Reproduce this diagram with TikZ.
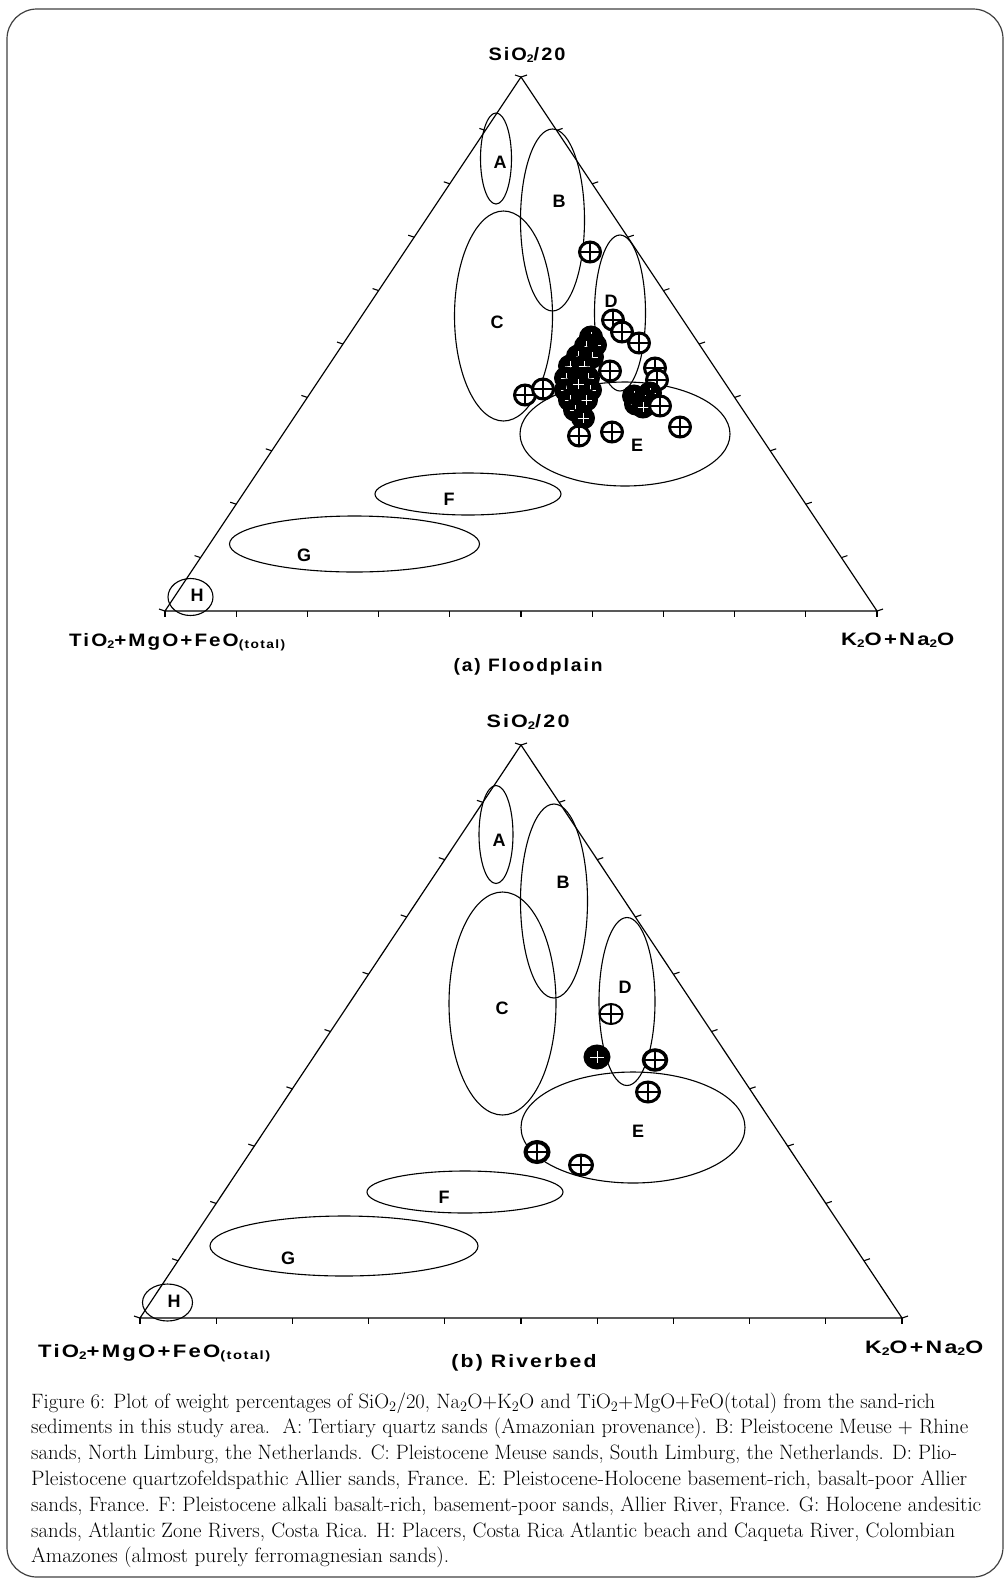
\documentclass[tikz,border=0pt]{standalone}
\usepackage{fontspec}
\usepackage{graphicx}
\usetikzlibrary{calc,shapes.geometric}
\newfontfamily\axf[LetterSpace=10]{Liberation Sans}
\newfontfamily\lbf{Liberation Sans}
\newcommand\mysub[1]{\raisebox{-1.5pt}{\fontsize{11}{11}\selectfont #1}}
\newcommand\mytot{\raisebox{-1.5pt}{\fontsize{12}{12}\selectfont (total)}}
\newcommand\fitw[2]{\resizebox{#1pt}{\height}{#2}}
\tikzset{
 triline/.style={line width=1.2pt},
 regline/.style={line width=1.1pt},
 tickline/.style={line width=1.1pt},
 reglab/.style={font=\lbf\bfseries\fontsize{18}{18}\selectfont, inner sep=0pt},
 axlab/.style={font=\axf\bfseries\fontsize{18}{18}\selectfont, inner sep=0pt},
 captxt/.style={anchor=base west, inner sep=0pt, font=\fontsize{20.8}{22}\selectfont},
 ptw/.style={ellipse, draw, line width=3pt, fill=white, minimum width=21pt, minimum height=20pt, inner sep=0pt,
   path picture={\draw[line width=1.8pt] (path picture bounding box.north) -- (path picture bounding box.south)
     (path picture bounding box.west) -- (path picture bounding box.east);}},
 ptk/.style={ptw, fill=black,
   path picture={\draw[white, line width=0.5pt] ([yshift=-5pt]path picture bounding box.north) -- ([yshift=5pt]path picture bounding box.south)
     ([xshift=5pt]path picture bounding box.west) -- ([xshift=-5pt]path picture bounding box.east);}},
 ptwide/.style={minimum width=23pt, minimum height=20pt},
}
\begin{document}
\begin{tikzpicture}[x=1pt,y=-1pt]
\useasboundingbox (0,0) rectangle (1005,1580);
\draw[rounded corners=30pt, line width=1.2pt, black!75] (7,9) rectangle (1003,1577);

% ================= panel (a)
\coordinate (Ta) at (521,77);
\coordinate (La) at (165,611);
\coordinate (Ra) at (877,611);
\draw[triline] (La) -- (Ra) -- (Ta) -- cycle;
\foreach \k in {0,...,10} {
  \draw[tickline] ($(La)!\k/10!(Ra)$) -- ++(0,6);
  \draw[tickline] ($(La)!\k/10!(Ta)$) -- ++(-6,-2);
  \draw[tickline] ($(Ra)!\k/10!(Ta)$) -- ++(6,-2);
}
\draw[regline] (496,158.5) ellipse [x radius=15.5, y radius=45.5];
\draw[regline] (552.5,220) ellipse [x radius=32, y radius=91];
\draw[regline] (503.5,316) ellipse [x radius=49, y radius=105];
\draw[regline] (620,313) ellipse [x radius=25.5, y radius=78];
\draw[regline] (625,434) ellipse [x radius=105, y radius=52];
\draw[regline] (468,494) ellipse [x radius=93, y radius=21];
\draw[regline] (354.5,544) ellipse [x radius=125, y radius=28];
\draw[regline] (190.5,597) ellipse [x radius=22.5, y radius=18.5];
\node[reglab] (aA) at (500,162) {A};
\node[reglab] (aB) at (559,201) {B};
\node[reglab] (aC) at (497,322) {C};
\node[reglab] (aD) at (611,301) {D};
\node[reglab] (aE) at (637,445) {E};
\node[reglab] (aF) at (449,499) {F};
\node[reglab] (aG) at (304,555) {G};
\node[reglab] (aH) at (197,595) {H};
% data points (a)
\node[ptw] (a1) at (590,252) {};
\node[ptw] (a2) at (613,320) {};
\node[ptw] (a3) at (622,332) {};
\node[ptw] (a4) at (639,343) {};
\node[ptk] (k1) at (591,337) {};
\node[ptk] (k1b) at (595,345) {};
\node[ptk] (k2) at (586,346) {};
\node[ptk] (k3) at (578,356) {};
\node[ptk] (k3b) at (592,357) {};
\node[ptk] (k4) at (570,366) {};
\node[ptk] (k5) at (584,366) {};
\node[ptk] (k6) at (566,378) {};
\node[ptk] (k7) at (588,378) {};
\node[ptk] (k8) at (566,390) {};
\node[ptk] (k9) at (590,390) {};
\node[ptk] (k9b) at (578,384) {};
\node[ptk] (k10) at (570,400) {};
\node[ptk] (k11) at (586,400) {};
\node[ptk] (k12) at (575,410) {};
\node[ptk] (k13) at (583,418) {};
\node[ptw] (a5) at (610,371) {};
\node[ptw] (a6) at (655,368) {};
\node[ptw] (a7) at (657,380) {};
\node[ptk] (k14) at (634,396) {};
\node[ptk] (k15) at (650,393) {};
\node[ptk] (k16) at (645,400) {};
\node[ptk] (k17) at (636,404) {};
\node[ptk] (k18) at (643,407) {};
\node[ptw] (a8) at (525,395) {};
\node[ptw] (a9) at (543,389) {};
\node[ptw] (a10) at (579,436) {};
\node[ptw] (a11) at (612,432) {};
\node[ptw] (a12) at (680,427) {};
\node[ptw] (a13) at (660,406) {};
% axis labels (a)
\node[axlab] (atop) at (527,55) {\fitw{77}{SiO\mysub{2}/20}};
\node[axlab, anchor=west] (aleft) at (69,642) {\fitw{216}{TiO\mysub{2}+MgO+FeO\mytot}};
\node[axlab, anchor=west] (aright) at (841,640) {\fitw{113}{K\mysub{2}O+Na\mysub{2}O}};
\node[axlab] (atitle) at (528,667) {\fitw{149}{(a) Floodplain}};

% ================= panel (b)
\coordinate (Tb) at (521,745);
\coordinate (Lb) at (140,1318);
\coordinate (Rb) at (902,1318);
\draw[triline] (Lb) -- (Rb) -- (Tb) -- cycle;
\foreach \k in {0,...,10} {
  \draw[tickline] ($(Lb)!\k/10!(Rb)$) -- ++(0,6);
  \draw[tickline] ($(Lb)!\k/10!(Tb)$) -- ++(-6,-2);
  \draw[tickline] ($(Rb)!\k/10!(Tb)$) -- ++(6,-2);
}
\draw[regline] (496,834.5) ellipse [x radius=17, y radius=49];
\draw[regline] (554,901) ellipse [x radius=33.5, y radius=97];
\draw[regline] (502.5,1003.5) ellipse [x radius=53.5, y radius=111.5];
\draw[regline] (627,1001.5) ellipse [x radius=28, y radius=84];
\draw[regline] (633,1127.5) ellipse [x radius=112, y radius=55.5];
\draw[regline] (465,1192) ellipse [x radius=98, y radius=21];
\draw[regline] (344,1246) ellipse [x radius=134, y radius=30];
\draw[regline] (167.5,1302.5) ellipse [x radius=25, y radius=18.5];
\node[reglab] (bA) at (499,840) {A};
\node[reglab] (bB) at (563,882) {B};
\node[reglab] (bC) at (502,1008) {C};
\node[reglab] (bD) at (625,987) {D};
\node[reglab] (bE) at (638,1131) {E};
\node[reglab] (bF) at (444,1197) {F};
\node[reglab] (bG) at (288,1258) {G};
\node[reglab] (bH) at (174,1301) {H};
% data points (b)
\node[ptw, ptwide, line width=2pt] (b1) at (611,1014) {};
\node[ptk, ptwide, minimum width=24pt, minimum height=22pt] (b2) at (597,1057) {};
\node[ptw, ptwide, line width=3.5pt] (b3) at (655,1060) {};
\node[ptw, ptwide] (b4) at (648,1092) {};
\node[ptw, ptwide, line width=4pt] (b5) at (537,1152) {};
\node[ptw, ptwide] (b6) at (581,1165) {};
% axis labels (b)
\node[axlab] (btop) at (528,722) {\fitw{83}{SiO\mysub{2}/20}};
\node[axlab, anchor=west] (bleft) at (38,1353) {\fitw{232}{TiO\mysub{2}+MgO+FeO\mytot}};
\node[axlab, anchor=west] (bright) at (865,1348) {\fitw{118}{K\mysub{2}O+Na\mysub{2}O}};
\node[axlab] (btitle) at (524,1363) {\fitw{145}{(b) Riverbed}};

% ================= caption
\node[captxt] (c1) at (31,1408) {\fitw{904}{Figure 6: Plot of weight percentages of SiO$_2$/20, Na$_2$O+K$_2$O and TiO$_2$+MgO+FeO(total) from the sand-rich}};
\node[captxt] (c2) at (31,1433.8) {\fitw{937}{sediments in this study area.\ \ A: Tertiary quartz sands (Amazonian provenance). B: Pleistocene Meuse + Rhine}};
\node[captxt] (c3) at (31,1459.6) {\fitw{926}{sands, North Limburg, the Netherlands. C: Pleistocene Meuse sands, South Limburg, the Netherlands. D: Plio-}};
\node[captxt] (c4) at (31,1485.4) {\fitw{936}{Pleistocene quartzofeldspathic Allier sands, France. E: Pleistocene-Holocene basement-rich, basalt-poor Allier}};
\node[captxt] (c5) at (31,1511.2) {\fitw{950}{sands, France. F: Pleistocene alkali basalt-rich, basement-poor sands, Allier River, France. G: Holocene andesitic}};
\node[captxt] (c6) at (31,1537) {\fitw{924}{sands, Atlantic Zone Rivers, Costa Rica. H: Placers, Costa Rica Atlantic beach and Caqueta River, Colombian}};
\node[captxt] (c7) at (31,1562.8) {\fitw{418}{Amazones (almost purely ferromagnesian sands).}};
\end{tikzpicture}
\end{document}
